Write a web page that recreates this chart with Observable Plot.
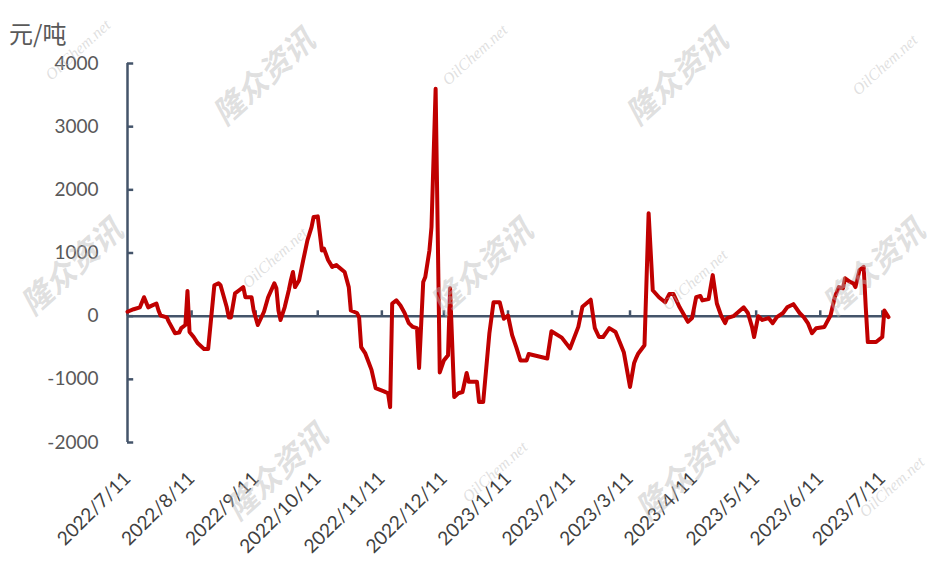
<!DOCTYPE html>
<html><head><meta charset="utf-8">
<script src="https://cdn.jsdelivr.net/npm/d3@7"></script>
<script src="https://cdn.jsdelivr.net/npm/@observablehq/plot@0.6"></script>
<style>
body{margin:0;background:#fff;}
#wrap{position:relative;width:940px;height:563px;overflow:hidden;background:#fff;}
#wrap svg{position:absolute;left:0;top:0;}
#unit{position:absolute;left:9px;top:15px;font-size:24px;font-family:"Noto Sans CJK SC";color:#595959;}
.wm{position:absolute;color:rgba(185,185,185,0.45);transform:translate(-50%,-50%) rotate(-42deg);white-space:nowrap;pointer-events:none;}
.wm1{font-family:"Noto Sans CJK SC";font-weight:bold;font-style:italic;font-size:31px;}
.wm2{font-family:"Liberation Serif";font-style:italic;font-size:16px;}
</style></head><body>
<div id="wrap"><div id="unit">元/吨</div></div>
<script>
const dates = [
"2022-07-11","2022-07-14","2022-07-17","2022-07-19","2022-07-21","2022-07-23","2022-07-25","2022-07-26","2022-07-27","2022-07-30",
"2022-07-31","2022-08-03","2022-08-05","2022-08-06","2022-08-08","2022-08-09","2022-08-10","2022-08-12","2022-08-14","2022-08-17",
"2022-08-19","2022-08-22","2022-08-24","2022-08-25","2022-08-28","2022-08-29","2022-08-30","2022-09-01","2022-09-03","2022-09-05",
"2022-09-06","2022-09-09","2022-09-10","2022-09-12","2022-09-15","2022-09-17","2022-09-20","2022-09-21","2022-09-22","2022-09-23",
"2022-09-25","2022-09-27","2022-09-28","2022-09-29","2022-09-30","2022-10-02","2022-10-04","2022-10-06","2022-10-08","2022-10-09",
"2022-10-11","2022-10-13","2022-10-14","2022-10-16","2022-10-18","2022-10-20","2022-10-21","2022-10-24","2022-10-26","2022-10-27",
"2022-10-30","2022-10-31","2022-11-01","2022-11-03","2022-11-06","2022-11-08","2022-11-12","2022-11-14","2022-11-15","2022-11-16",
"2022-11-18","2022-11-20","2022-11-22","2022-11-24","2022-11-26","2022-11-28","2022-11-29","2022-12-01","2022-12-02","2022-12-04",
"2022-12-05","2022-12-07","2022-12-09","2022-12-11","2022-12-13","2022-12-14","2022-12-16","2022-12-18","2022-12-20","2022-12-22",
"2022-12-23","2022-12-27","2022-12-28","2022-12-30","2023-01-02","2023-01-04","2023-01-07","2023-01-09","2023-01-11","2023-01-13",
"2023-01-15","2023-01-17","2023-01-20","2023-01-21","2023-01-30","2023-02-01","2023-02-06","2023-02-10","2023-02-14","2023-02-16",
"2023-02-20","2023-02-22","2023-02-24","2023-02-26","2023-03-01","2023-03-04","2023-03-06","2023-03-08","2023-03-11","2023-03-13",
"2023-03-14","2023-03-15","2023-03-18","2023-03-20","2023-03-22","2023-03-25","2023-03-28","2023-03-30","2023-04-01","2023-04-04",
"2023-04-08","2023-04-10","2023-04-12","2023-04-14","2023-04-15","2023-04-18","2023-04-20","2023-04-22","2023-04-24","2023-04-26",
"2023-04-27","2023-04-30","2023-05-05","2023-05-07","2023-05-09","2023-05-10","2023-05-12","2023-05-14","2023-05-17","2023-05-19",
"2023-05-21","2023-05-24","2023-05-26","2023-05-29","2023-06-01","2023-06-03","2023-06-05","2023-06-07","2023-06-09","2023-06-13",
"2023-06-16","2023-06-18","2023-06-20","2023-06-22","2023-06-23","2023-06-25","2023-06-27","2023-06-28","2023-06-30","2023-07-02",
"2023-07-03","2023-07-04","2023-07-08","2023-07-11","2023-07-12","2023-07-14"
];
const values = [
70,110,140,300,140,170,200,90,10,-20,
-90,-270,-260,-190,-140,400,-250,-330,-430,-520,
-520,490,520,490,140,-20,-20,360,410,460,
300,300,90,-140,70,300,520,440,90,-60,
140,410,570,700,460,570,890,1200,1410,1570,
1580,1040,1070,890,780,810,780,700,460,90,
50,-20,-490,-590,-850,-1140,-1190,-1220,-1440,200,
250,170,50,-110,-170,-190,-820,540,620,1040,
1410,3600,-890,-700,-620,440,-1280,-1220,-1200,-900,
-1040,-1040,-1360,-1360,-270,220,220,-40,10,-300,
-490,-700,-700,-600,-670,-240,-340,-510,-170,150,
260,-190,-330,-330,-190,-250,-410,-570,-1120,-740,
-660,-590,-460,1630,410,300,220,350,350,140,
-90,-30,300,320,250,270,650,200,15,-110,
-30,0,140,50,-170,-330,0,-60,-30,-110,
-15,50,140,190,50,-15,-110,-270,-190,-170,
15,300,460,440,600,550,520,460,730,780,
140,-410,-410,-330,90,-15
];
const yTicks = [-2000,-1000,0,1000,2000,3000,4000];
const xTickLabels = ["2022/7/11","2022/8/11","2022/9/11","2022/10/11","2022/11/11","2022/12/11","2023/1/11","2023/2/11","2023/3/11","2023/4/11","2023/5/11","2023/6/11","2023/7/11"];
const unitLabel = "元/吨";
const wmMain = "隆众资讯";
const wmSub = "OilChem.net";

const parse = d3.utcParse("%Y-%m-%d");
const parseTick = d3.utcParse("%Y/%m/%d");
const data = dates.map((d, i) => ({date: parse(d), value: values[i]}));
const tickDates = xTickLabels.map(parseTick);
const xStart = data[0].date;
const xEnd = data[data.length - 1].date;
const axisColor = "#44546A";

const chart = Plot.plot({
  width: 940, height: 563,
  marginLeft: 127, marginRight: 52, marginTop: 63, marginBottom: 121,
  style: {fontFamily: "Lato", background: "transparent"},
  x: {type: "utc", domain: [xStart, xEnd]},
  y: {domain: [-2000, 4000]},
  marks: [
    Plot.axisY(yTicks, {tickSize: 0, tickPadding: 29, fontSize: 19, fill: "#595959", label: null, tickFormat: d => String(d)}),
    Plot.axisX(tickDates, {tickSize: 0, tickPadding: 33, tickRotate: -45, textAnchor: "end", lineAnchor: "middle", fontSize: 19, fill: "#404040", label: null, tickFormat: d3.utcFormat("%Y/%-m/%-d")}),
    Plot.ruleY(yTicks, {y: d => d, x1: xStart, x2: d3.utcDay.offset(xStart, 3), stroke: axisColor, strokeWidth: 2.5}),
    Plot.ruleX(tickDates, {x: d => d, y1: 0, y2: 85, stroke: axisColor, strokeWidth: 2.5}),
    Plot.ruleY([0], {x1: xStart, x2: xEnd, stroke: axisColor, strokeWidth: 2.5}),
    Plot.ruleX([xStart], {y1: -2000, y2: 4000, stroke: axisColor, strokeWidth: 2.5}),
    Plot.line(data, {x: "date", y: "value", stroke: "#C00000", strokeWidth: 4, strokeLinejoin: "round"})
  ]
});
const wrap = document.getElementById("wrap");
wrap.insertBefore(chart, wrap.firstChild);
document.getElementById("unit").textContent = unitLabel;

const wmPos1 = [[262,75],[675,75],[70,265],[480,265],[872,265],[275,470],[685,470]];
const wmPos2 = [[78,50],[475,55],[885,65],[275,258],[695,280],[495,472],[892,487]];
wmPos1.forEach(([l,t]) => { const e = document.createElement("div"); e.className = "wm wm1"; e.style.left = l+"px"; e.style.top = t+"px"; e.textContent = wmMain; wrap.appendChild(e); });
wmPos2.forEach(([l,t]) => { const e = document.createElement("div"); e.className = "wm wm2"; e.style.left = l+"px"; e.style.top = t+"px"; e.textContent = wmSub; wrap.appendChild(e); });
</script>
</body></html>
